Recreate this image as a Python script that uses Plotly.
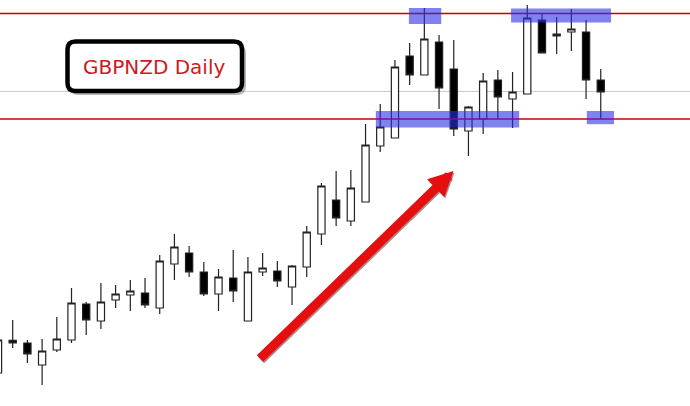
import plotly.graph_objects as go

# ---- data (GBPNZD daily candles) ----
idx = list(range(42))
opens = [2.1730, 2.1893, 2.1880, 2.1770, 2.1845, 2.1895, 2.2075, 2.1990, 2.2095, 2.2120,
         2.2130, 2.2055, 2.2275, 2.2330, 2.2235, 2.2125, 2.2205, 2.1990, 2.2235, 2.2240,
         2.2160, 2.2260, 2.2425, 2.2595, 2.2490, 2.2585, 2.2865, 2.2905, 2.3315, 2.3220,
         2.3385, 2.3250, 2.2940, 2.3000, 2.3195, 2.3100, 2.3125, 2.3495, 2.3415, 2.3435,
         2.3435, 2.3195]
highs = [2.1920, 2.1995, 2.1895, 2.1900, 2.2010, 2.2155, 2.2085, 2.2180, 2.2170, 2.2195,
         2.2205, 2.2320, 2.2425, 2.2365, 2.2285, 2.2250, 2.2345, 2.2310, 2.2330, 2.2290,
         2.2270, 2.2465, 2.2680, 2.2740, 2.2745, 2.2975, 2.3075, 2.3295, 2.3380, 2.3555,
         2.3420, 2.3395, 2.3065, 2.3230, 2.3245, 2.3235, 2.3570, 2.3530, 2.3510, 2.3550,
         2.3495, 2.3250]
lows = [2.1705, 2.1855, 2.1780, 2.1670, 2.1835, 2.1880, 2.1920, 2.1950, 2.2055, 2.2040,
        2.2055, 2.2025, 2.2195, 2.2210, 2.2115, 2.2040, 2.2085, 2.1990, 2.2215, 2.2160,
        2.2070, 2.2210, 2.2370, 2.2465, 2.2465, 2.2585, 2.2835, 2.2905, 2.3170, 2.3220,
        2.3050, 2.2915, 2.2815, 2.2925, 2.3000, 2.2955, 2.3125, 2.3330, 2.3325, 2.3340,
        2.3100, 2.3000]
closes = [2.1895, 2.1880, 2.1825, 2.1840, 2.1900, 2.2080, 2.1995, 2.2085, 2.2125, 2.2140,
          2.2070, 2.2290, 2.2360, 2.2235, 2.2125, 2.2210, 2.2140, 2.2235, 2.2255, 2.2190,
          2.2265, 2.2435, 2.2665, 2.2505, 2.2655, 2.2870, 2.2960, 2.3260, 2.3220, 2.3400,
          2.3155, 2.2950, 2.3060, 2.3190, 2.3110, 2.3135, 2.3505, 2.3330, 2.3425, 2.3450,
          2.3195, 2.3135]

resistance = 2.3528
support = 2.3000
mid_level = 2.3138

# highlight zones: (x0, x1, y0, y1) in candle index / price
zones_x0 = [27.95, 34.90, 25.70, 40.05]
zones_x1 = [30.15, 41.70, 35.45, 41.90]
zones_y0 = [2.3475, 2.3482, 2.2957, 2.2974]
zones_y1 = [2.3555, 2.3552, 2.3040, 2.3040]

W, H = 690, 406


def pxx(x):
    return x / W


def pxy(y):
    return 1 - y / H


fig = go.Figure()
fig.add_trace(go.Candlestick(
    x=idx, open=opens, high=highs, low=lows, close=closes,
    increasing=dict(line=dict(color="#222222", width=1.2), fillcolor="white"),
    decreasing=dict(line=dict(color="#222222", width=1.2), fillcolor="black"),
    whiskerwidth=0, hoverinfo="skip", showlegend=False,
))

shapes = []
# grey mid line
shapes.append(dict(type="line", xref="paper", x0=0, x1=1, yref="y", y0=mid_level, y1=mid_level,
                   line=dict(color="#c8c8c8", width=1), layer="below"))
# red levels
for lv in (resistance, support):
    shapes.append(dict(type="line", xref="paper", x0=0, x1=1, yref="y", y0=lv, y1=lv,
                       line=dict(color="#cc0000", width=1.5), layer="above"))
# blue zones
for a, b, c, d in zip(zones_x0, zones_x1, zones_y0, zones_y1):
    shapes.append(dict(type="rect", xref="x", yref="y", x0=a, x1=b, y0=c, y1=d,
                       fillcolor="rgba(45,45,230,0.6)", line=dict(width=0), layer="above"))


def rounded(x0, y0, x1, y1, r):
    X0, X1 = pxx(x0), pxx(x1)
    Y0, Y1 = pxy(y0), pxy(y1)
    rx, ry = r / W, r / H
    return (f"M{X0+rx},{Y0} L{X1-rx},{Y0} Q{X1},{Y0} {X1},{Y0-ry} "
            f"L{X1},{Y1+ry} Q{X1},{Y1} {X1-rx},{Y1} L{X0+rx},{Y1} "
            f"Q{X0},{Y1} {X0},{Y1+ry} L{X0},{Y0-ry} Q{X0},{Y0} {X0+rx},{Y0} Z")


# label box shadow + box
shapes.append(dict(type="path", xref="paper", yref="paper", path=rounded(69, 44, 246, 95, 9),
                   fillcolor="rgba(0,0,0,0.28)", line=dict(width=0), layer="above"))
shapes.append(dict(type="path", xref="paper", yref="paper", path=rounded(67.5, 41.5, 242, 91, 8),
                   fillcolor="white", line=dict(color="black", width=4.5), layer="above"))

annotations = [
    dict(xref="paper", yref="paper", x=pxx(154), y=pxy(67), text="GBPNZD Daily",
         showarrow=False, font=dict(family="DejaVu Sans", size=20, color="#cc1a24"),
         xanchor="center", yanchor="middle"),
    # arrow shadow
    dict(xref="paper", yref="paper", x=pxx(454.5), y=pxy(172.5), ax=-195, ay=189, text="",
         showarrow=True, arrowhead=2, arrowsize=0.55, arrowwidth=9,
         arrowcolor="rgba(70,0,0,0.45)"),
    # arrow
    dict(xref="paper", yref="paper", x=pxx(453.5), y=pxy(171), ax=-195, ay=189, text="",
         showarrow=True, arrowhead=2, arrowsize=0.55, arrowwidth=9, arrowcolor="#e60f0f"),
]

fig.update_layout(
    width=W, height=H, margin=dict(l=0, r=0, t=0, b=0),
    paper_bgcolor="white", plot_bgcolor="white",
    shapes=shapes, annotations=annotations, showlegend=False,
    xaxis=dict(range=[0.136, 47.07], visible=False, rangeslider=dict(visible=False),
               showgrid=False, zeroline=False),
    yaxis=dict(range=[2.1565, 2.3595], visible=False, showgrid=False, zeroline=False),
)

fig.write_html("out.html", config={"displayModeBar": False},
               post_script="document.body.style.margin='0';")
